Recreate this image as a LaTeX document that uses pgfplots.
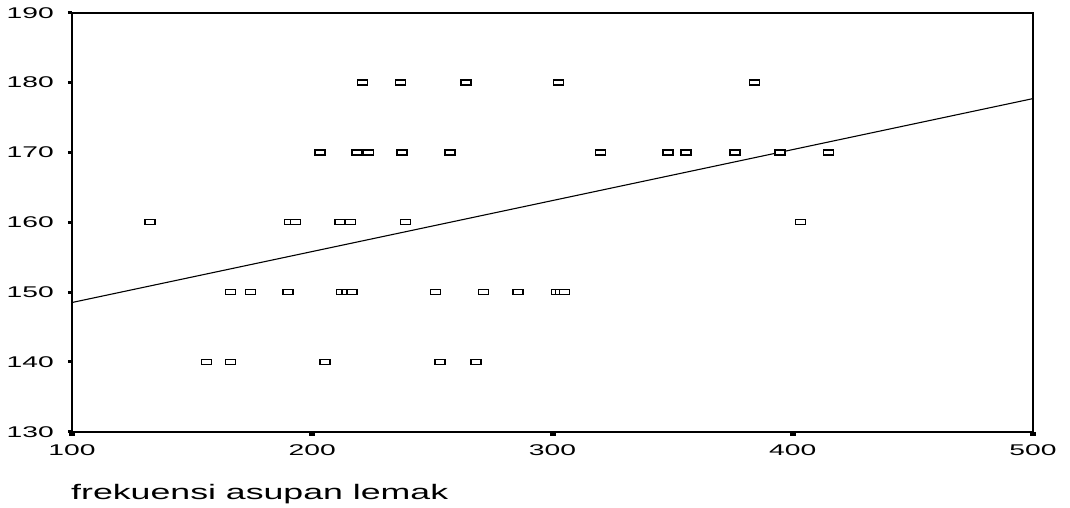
\documentclass[border=0pt]{standalone}
\usepackage{fontspec}
\setmainfont[FakeStretch=1.70]{Liberation Sans}
\newfontfamily\tickfont[FakeStretch=1.82]{Liberation Sans}
\usepackage{pgfplots}
\pgfplotsset{compat=1.18}
\begin{document}
\begin{tikzpicture}[x=1pt,y=1pt]
\useasboundingbox (-72,-76.3) rectangle (998,431.7);
\begin{axis}[
  at={(0,0)}, anchor=south west,
  scale only axis, width=961pt, height=419pt,
  xmin=100, xmax=500, ymin=130, ymax=190,
  xtick={100,200,300,400,500},
  ytick={130,140,150,160,170,180,190},
  /pgf/number format/assume math mode=true,
  axis line style={line width=1.8pt},
  tick align=outside,
  major tick length=4pt,
  xtick style={line width=6pt, black},
  ytick style={line width=3pt, black},
  xtick pos=bottom, ytick pos=left,
  ticklabel style={font=\tickfont\fontsize{15.5}{15.5}\selectfont, inner sep=0pt},
  xticklabel style={anchor=north, yshift=-9pt},
  yticklabel style={anchor=east, xshift=-14pt},
  xlabel={frekuensi asupan lemak},
  xlabel style={at={(axis description cs:0,0)}, anchor=base west, yshift=-68pt, xshift=-1pt, inner sep=0pt, font=\fontsize{21}{21}\selectfont},
  clip=false,
]
\addplot[black, line width=1.1pt] coordinates {(100,148.5) (500,177.7)};
\addplot[only marks, mark=square*, mark size=2.5pt,
  mark options={fill=white, draw=black, line width=1.4pt, xscale=2.0}] coordinates {
(220.9,180) (236.7,180) (264.0,180) (302.4,180) (384.2,180)
(203.3,170) (218.7,170) (223.5,170) (237.4,170) (257.3,170) (319.9,170) (348.1,170) (355.5,170) (376.0,170) (394.7,170) (414.8,170)
(132.4,160) (190.6,160) (193.1,160) (211.5,160) (215.8,160) (238.8,160) (403.2,160)
(165.9,150) (174.4,150) (189.9,150) (212.2,150) (214.4,150) (216.5,150) (251.4,150) (271.2,150) (285.6,150) (301.7,150) (303.4,150) (305.0,150)
(156.1,140) (165.9,140) (205.3,140) (253.2,140) (268.1,140)
};
\end{axis}
\end{tikzpicture}
\end{document}
